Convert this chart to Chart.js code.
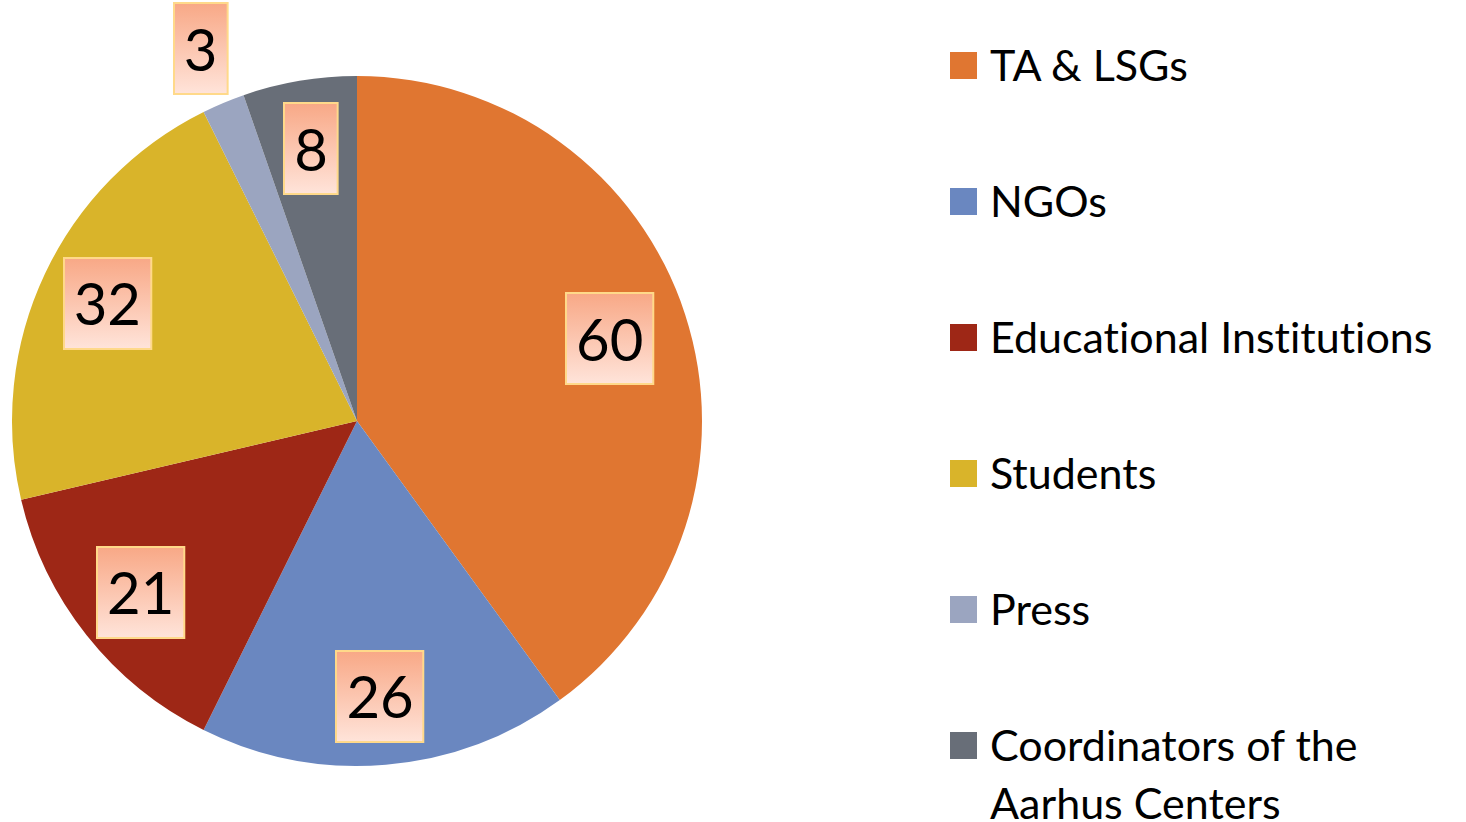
<!DOCTYPE html>
<html>
<head>
<meta charset="utf-8">
<script src="https://cdn.jsdelivr.net/npm/chart.js@4.4.1/dist/chart.umd.min.js"></script>
<style>
  html, body { margin: 0; padding: 0; background: #fff; }
  body { width: 1466px; height: 822px; position: relative; overflow: hidden; font-family: Lato, "Open Sans", sans-serif; }
  #pieWrap { position: absolute; left: 0; top: 0; width: 714px; height: 822px; }
  #legend { position: absolute; left: 950px; top: 0; margin: 0; padding: 0; list-style: none; }
  #legend li { position: absolute; left: 0; width: 510px; display: flex; align-items: flex-start; }
  #legend .sw { width: 27px; height: 27px; flex: none; margin-top: 16px; margin-right: 13px; }
  #legend .tx { width: 470px; font-size: 43px; line-height: 58px; color: #000; font-variant-ligatures: none; }
</style>
</head>
<body>
<div id="pieWrap"><canvas id="pieChart"></canvas></div>
<ul id="legend"></ul>
<script>
const labels = ["TA & LSGs", "NGOs", "Educational Institutions", "Students", "Press", "Coordinators of the Aarhus Centers"];
const values = [60, 26, 21, 32, 3, 8];
const colors = ["#E07631", "#6A87C0", "#9E2716", "#D9B42A", "#9BA5C0", "#686E78"];

// html legend built from the same arrays
const legend = document.getElementById("legend");
labels.forEach((label, i) => {
  const li = document.createElement("li");
  li.style.top = (36 + i * 136) + "px";
  li.innerHTML = `<span class="sw" style="background:${colors[i]}"></span><span class="tx"></span>`;
  li.querySelector(".tx").textContent = label;
  legend.appendChild(li);
});

// data labels in boxes with a salmon gradient
const boxLabels = {
  id: "boxLabels",
  afterDatasetsDraw(chart) {
    const ctx = chart.ctx;
    const meta = chart.getDatasetMeta(0);
    const total = values.reduce((a, b) => a + b, 0);
    ctx.save();
    ctx.font = "58px Lato, 'Open Sans', sans-serif";
    ctx.textAlign = "center";
    ctx.textBaseline = "middle";
    meta.data.forEach((arc, i) => {
      const p = arc.getProps(["x", "y", "startAngle", "endAngle", "outerRadius"], true);
      const mid = (p.startAngle + p.endAngle) / 2;
      const frac = values[i] / total;
      let r = p.outerRadius * 0.8;
      if (frac < 0.03) r = p.outerRadius * 1.17;
      if (frac > 0.35) r = p.outerRadius * 0.77;
      const cx = p.x + Math.cos(mid) * r;
      const cy = p.y + Math.sin(mid) * r;
      const text = String(values[i]);
      const w = ctx.measureText(text).width + 20;
      const h = 91;
      const x0 = Math.round(cx - w / 2), y0 = Math.round(cy - h / 2);
      const g = ctx.createLinearGradient(0, y0, 0, y0 + h);
      g.addColorStop(0, "#F8A886");
      g.addColorStop(1, "#FFE4DA");
      ctx.fillStyle = g;
      ctx.fillRect(x0, y0, w, h);
      ctx.strokeStyle = "#FFD98A";
      ctx.lineWidth = 2;
      ctx.strokeRect(x0, y0, w, h);
      ctx.fillStyle = "#000";
      ctx.fillText(text, cx, cy + 3);
    });
    ctx.restore();
  }
};

new Chart(document.getElementById("pieChart"), {
  type: "pie",
  data: {
    labels,
    datasets: [{
      data: values,
      backgroundColor: colors,
      borderWidth: 0
    }]
  },
  options: {
    responsive: true,
    maintainAspectRatio: false,
    animation: false,
    layout: { padding: { left: 12, right: 12, top: 76, bottom: 56 } },
    plugins: {
      legend: { display: false },
      tooltip: { enabled: false }
    }
  },
  plugins: [boxLabels]
});
</script>
</body>
</html>
